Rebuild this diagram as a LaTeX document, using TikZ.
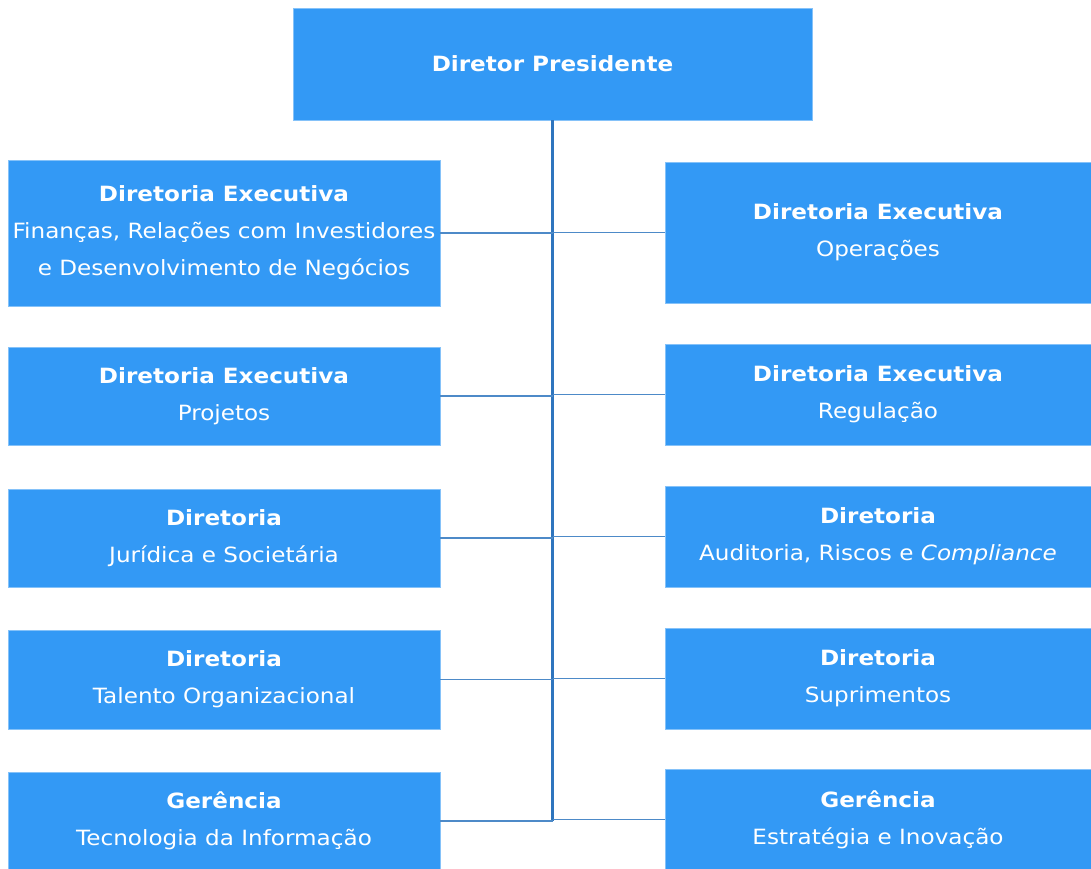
\documentclass[tikz,border=0pt]{standalone}
\usepackage{fontspec}
\setmainfont{DejaVu Sans}[FakeStretch=1.1]
\definecolor{boxblue}{RGB}{51,153,245}
\definecolor{lineblue}{RGB}{46,117,190}
\begin{document}
\begin{tikzpicture}[x=1pt,y=-1pt,
  orgbox/.style={rectangle, fill=boxblue, draw=boxblue!60!white, line width=0.6pt,
    text=white, align=center, inner sep=0pt,
    font=\fontsize{21}{37}\selectfont},
  conn/.style={draw=lineblue, line width=2.6pt},
  hconn/.style={draw=lineblue!85!white, line width=1.9pt}]
\useasboundingbox (0,0) rectangle (1091,868);
\clip (0,0) rectangle (1091,868);
\fill[white] (0,0) rectangle (1091,868);

\node[orgbox, minimum width=519pt, minimum height=112pt] (top) at (552.5,64) {\textbf{Diretor Presidente}};

\node[orgbox, minimum width=432pt, minimum height=146pt] (L1) at (224,233)
  {\textbf{Diretoria Executiva}\\Finanças, Relações com Investidores\\e Desenvolvimento de Negócios};
\node[orgbox, minimum width=432pt, minimum height=98pt] (L2) at (224,396)
  {\textbf{Diretoria Executiva}\\Projetos};
\node[orgbox, minimum width=432pt, minimum height=98pt] (L3) at (224,538)
  {\textbf{Diretoria}\\Jurídica e Societária};
\node[orgbox, minimum width=432pt, minimum height=99pt] (L4) at (224,679.5)
  {\textbf{Diretoria}\\Talento Organizacional};
\node[orgbox, minimum width=432pt, minimum height=98pt] (L5) at (224,821)
  {\textbf{Gerência}\\Tecnologia da Informação};

\node[orgbox, minimum width=426pt, minimum height=141pt] (R1) at (878,232.5)
  {\textbf{Diretoria Executiva}\\Operações};
\node[orgbox, minimum width=426pt, minimum height=101pt] (R2) at (878,394.5)
  {\textbf{Diretoria Executiva}\\Regulação};
\node[orgbox, minimum width=426pt, minimum height=101pt] (R3) at (878,536.5)
  {\textbf{Diretoria}\\Auditoria, Riscos e \textit{Compliance}};
\node[orgbox, minimum width=426pt, minimum height=101pt] (R4) at (878,678.5)
  {\textbf{Diretoria}\\Suprimentos};
\node[orgbox, minimum width=426pt, minimum height=101pt] (R5) at (878,819.5)
  {\textbf{Gerência}\\Estratégia e Inovação};

\coordinate (bot) at (552,821);
\draw[conn] (top.south) -- (top.south |- bot);
\foreach \n in {L1,L2,L3,L4,L5} {
  \draw[hconn] (\n.east) -- (\n.east -| top.south);
}
\foreach \n in {R1,R2,R3,R4,R5} {
  \draw[hconn] (top.south |- \n.west) -- (\n.west);
}
\end{tikzpicture}
\end{document}
